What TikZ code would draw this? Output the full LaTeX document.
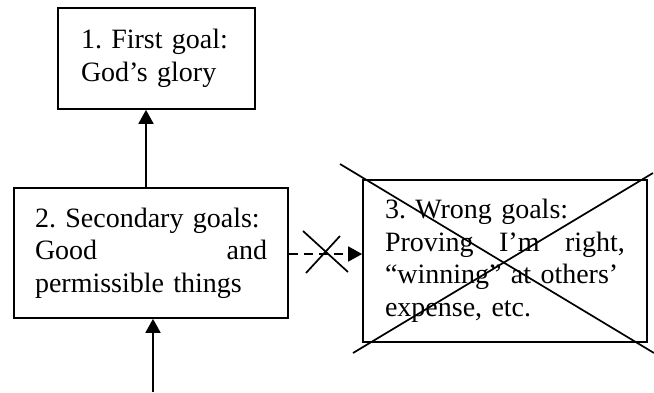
\documentclass[tikz,border=0pt]{standalone}
\usepackage{fontspec}
\setmainfont{Liberation Serif}
\usetikzlibrary{arrows.meta}
\begin{document}
\begin{tikzpicture}[x=1pt,y=-1pt,
  box/.style={draw, line width=1.7pt, inner ysep=0pt, font=\fontsize{28}{32.5}\selectfont\frenchspacing, align=left},
  arr/.style={line width=1.8pt, -{Triangle[length=14pt,width=15pt]}},
  crossline/.style={line width=1.7pt}]
\useasboundingbox (0,0) rectangle (654,392);
\node[box, text width=151pt, inner xsep=23pt, minimum height=101pt] (b1) at (156.5,58.5)
  {\mbox{1.\ First goal:}\\\mbox{God’s glory}};
\node[box, text width=232pt, inner xsep=21pt, minimum height=130pt] (b2) at (151,253)
  {\mbox{2.\ Secondary goals:}\\Good\hfill and\\\mbox{permissible things}};
\node[box, text width=240pt, inner xsep=22pt, minimum height=162pt] (b3) at (505,261)
  {\mbox{3.\ Wrong goals:}\\Proving\hfill I’m\hfill right,\\\mbox{“winning” at others’}\\\mbox{expense, etc.}};
\coordinate (a1) at (146,0);
\coordinate (a2) at (153,392);
\coordinate (d) at (0,254);
\draw[arr] (b2.north -| a1) -- (b1.south -| a1);
\draw[arr] (a2) -- (b2.south -| a2);
\draw[arr, dash pattern=on 9pt off 6pt] (b2.east |- d) -- (b3.west |- d);
\draw[crossline] (303,231) -- (348,272);
\draw[crossline] (306,273) -- (340,236);
\draw[crossline] (340,164) -- (654,353);
\draw[crossline] (353,353) -- (653,173);
\end{tikzpicture}
\end{document}
